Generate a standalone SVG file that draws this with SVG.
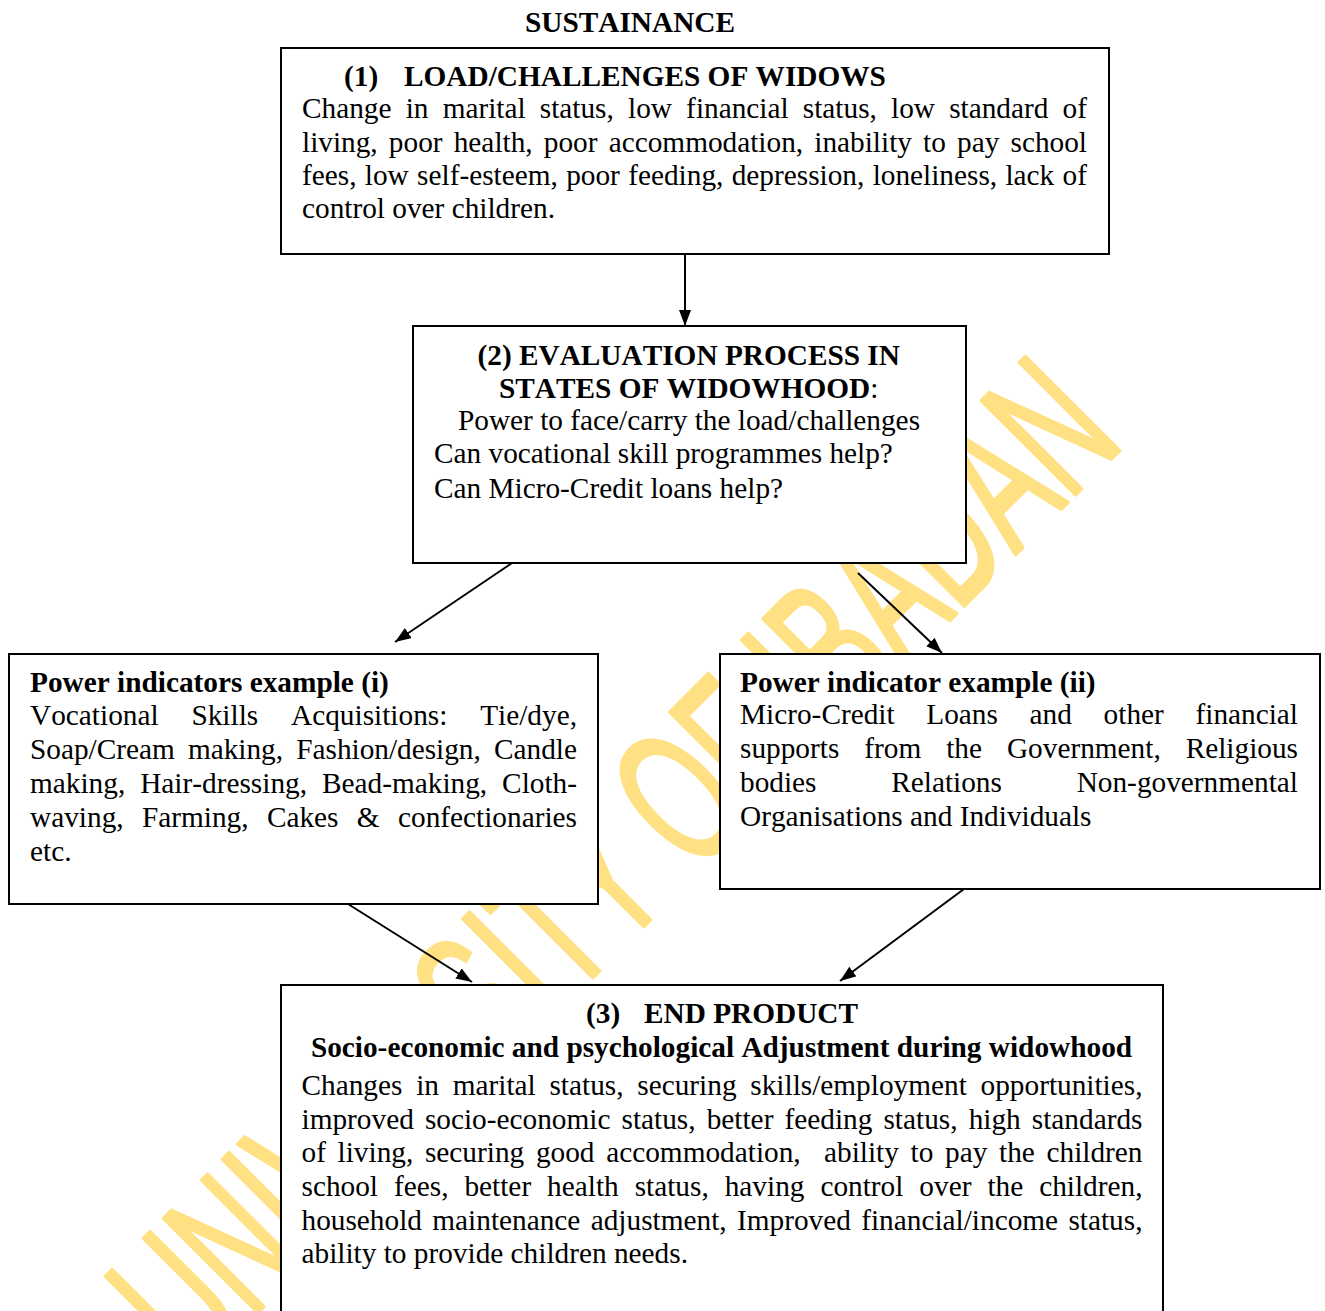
<svg xmlns="http://www.w3.org/2000/svg" width="1325" height="1311" viewBox="0 0 1325 1311">
<style>
.box{fill:#fff;stroke:#000;stroke-width:2}
.t{font-family:"Liberation Serif","Times New Roman",serif;font-size:29.3px;fill:#000;font-kerning:none}
.b{font-weight:bold}
.conn line{stroke:#000;stroke-width:2;marker-end:url(#ah)}
.wm{font-family:"Liberation Sans",Arial,sans-serif;font-size:193px;fill:#FFE083;stroke:#FFE083;stroke-width:4;stroke-linejoin:round}
</style>
<defs>
<marker id="ah" markerUnits="userSpaceOnUse" markerWidth="18" markerHeight="14" refX="16" refY="6" orient="auto">
<path d="M0,0 L16,6 L0,12 z" fill="#000"/>
</marker>
</defs>
<rect width="1325" height="1311" fill="#fff"/>
<g id="watermark">
<text class="wm" transform="translate(193,1377) rotate(-45)" x="0" y="0" textLength="1320" lengthAdjust="spacingAndGlyphs">UNIVERSITY OF IBADAN</text>
</g>
<text class="t b" x="525" y="32">SUSTAINANCE</text>
<g id="connectors" class="conn">
<line x1="685" y1="255" x2="685" y2="326"/>
<line x1="512" y1="563" x2="395" y2="642"/>
<line x1="858" y1="573" x2="942" y2="653"/>
<line x1="348" y1="904" x2="472" y2="982"/>
<line x1="964" y1="889" x2="840" y2="981"/>
</g>
<g id="node1">
<rect class="box" x="281" y="48" width="828" height="206"/>
<text class="t b" x="344" y="86">(1)</text>
<text class="t b" x="404" y="86">LOAD/CHALLENGES OF WIDOWS</text>
<text class="t" x="302" y="118" word-spacing="6.83" textLength="785" lengthAdjust="spacing">Change in marital status, low financial status, low standard of</text>
<text class="t" x="302" y="152" word-spacing="3.83" textLength="785" lengthAdjust="spacing">living, poor health, poor accommodation, inability to pay school</text>
<text class="t" x="302" y="185" word-spacing="0.99" textLength="785" lengthAdjust="spacing">fees, low self-esteem, poor feeding, depression, loneliness, lack of</text>
<text class="t" x="302" y="218">control over children.</text>
</g>
<g id="node2">
<rect class="box" x="413" y="326" width="553" height="237"/>
<text class="t b" x="688.7" y="365" text-anchor="middle">(2) EVALUATION PROCESS IN</text>
<text class="t" x="688.7" y="398" text-anchor="middle"><tspan class="b">STATES OF WIDOWHOOD</tspan>:</text>
<text class="t" x="458" y="430">Power to face/carry the load/challenges</text>
<text class="t" x="434" y="463">Can vocational skill programmes help?</text>
<text class="t" x="434" y="498">Can Micro-Credit loans help?</text>
</g>
<g id="node-i">
<rect class="box" x="9" y="654" width="589" height="250"/>
<text class="t b" x="30" y="692">Power indicators example (i)</text>
<text class="t" x="30" y="725" word-spacing="25.5" textLength="547" lengthAdjust="spacing">Vocational Skills Acquisitions: Tie/dye,</text>
<text class="t" x="30" y="759" word-spacing="6.0" textLength="547" lengthAdjust="spacing">Soap/Cream making, Fashion/design, Candle</text>
<text class="t" x="30" y="793" word-spacing="7.6" textLength="547" lengthAdjust="spacing">making, Hair-dressing, Bead-making, Cloth-</text>
<text class="t" x="30" y="827" word-spacing="11.0" textLength="547" lengthAdjust="spacing">waving, Farming, Cakes &amp; confectionaries</text>
<text class="t" x="30" y="861">etc.</text>
</g>
<g id="node-ii">
<rect class="box" x="720" y="654" width="600" height="235"/>
<text class="t b" x="740" y="692">Power indicator example (ii)</text>
<text class="t" x="740" y="724" word-spacing="24.35" textLength="558" lengthAdjust="spacing">Micro-Credit Loans and other financial</text>
<text class="t" x="740" y="758" word-spacing="17.6" textLength="558" lengthAdjust="spacing">supports from the Government, Religious</text>
<text class="t" x="740" y="792" word-spacing="67.4" textLength="558" lengthAdjust="spacing">bodies Relations Non-governmental</text>
<text class="t" x="740" y="826">Organisations and Individuals</text>
</g>
<g id="node3">
<rect class="box" x="281" y="985" width="882" height="340"/>
<text class="t b" x="586" y="1023">(3)</text>
<text class="t b" x="644" y="1023">END PRODUCT</text>
<text class="t b" x="721.5" y="1057" text-anchor="middle">Socio-economic and psychological Adjustment during widowhood</text>
<text class="t" x="301.5" y="1095" word-spacing="6.43" textLength="841" lengthAdjust="spacing">Changes in marital status, securing skills/employment opportunities,</text>
<text class="t" x="301.5" y="1129" word-spacing="3.77" textLength="841" lengthAdjust="spacing">improved socio-economic status, better feeding status, high standards</text>
<text class="t" x="301.5" y="1162" word-spacing="4.35" textLength="841" lengthAdjust="spacing" xml:space="preserve">of living, securing good accommodation,  ability to pay the children</text>
<text class="t" x="301.5" y="1196" word-spacing="8.63" textLength="841" lengthAdjust="spacing">school fees, better health status, having control over the children,</text>
<text class="t" x="301.5" y="1230" word-spacing="3.0" textLength="841" lengthAdjust="spacing">household maintenance adjustment, Improved financial/income status,</text>
<text class="t" x="301.5" y="1263">ability to provide children needs.</text>
</g>
</svg>
